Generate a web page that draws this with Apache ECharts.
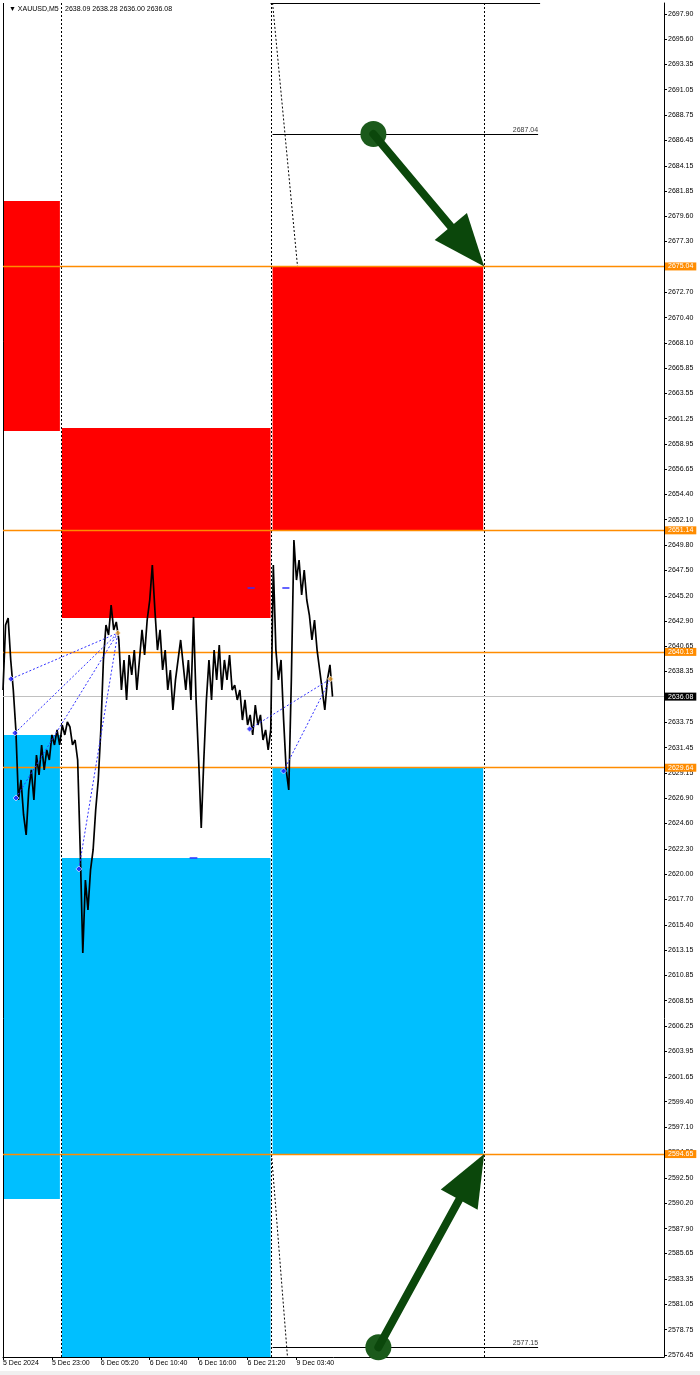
<!DOCTYPE html>
<html>
<head>
<meta charset="utf-8">
<title>XAUUSD,M5</title>
<script src="https://cdn.jsdelivr.net/npm/echarts@6/dist/echarts.min.js"></script>
<style>
    html, body { margin: 0; padding: 0; background: #fff; }
    #main { width: 700px; height: 1375px; }
</style>
</head>
<body>
<div id="main"></div>
<script>
// symbol / last bar
var symbolName = 'XAUUSD,M5';
var lastBar = ['2638.09', '2638.28', '2636.00', '2636.08'];

// M5 bars, bar 0 = 5 Dec 16:40, one close read every 4 bars
var closeStep = 4;
var closes = [
    2636.68, 2642.57, 2643.20, 2639.40, 2636.68, 2633.06, 2626.72, 2628.53, 2625.36, 2623.55,
    2627.63, 2629.44, 2626.72, 2630.79, 2628.98, 2631.70, 2629.44, 2631.25, 2630.34, 2632.61,
    2631.70, 2633.06, 2631.70, 2633.51, 2632.61, 2633.78, 2633.33, 2631.70, 2632.15, 2630.34,
    2622.19, 2612.86, 2619.47, 2616.76, 2620.38, 2622.19, 2625.81, 2628.53, 2633.06, 2639.40,
    2642.57, 2641.66, 2644.38, 2642.12, 2642.84, 2641.21, 2636.68, 2639.40, 2635.78, 2639.85,
    2638.04, 2640.30, 2636.68, 2639.40, 2642.12, 2639.85, 2643.02, 2644.83, 2648.00, 2643.93,
    2640.30, 2642.12, 2638.49, 2640.30, 2636.68, 2638.49, 2634.87, 2637.59, 2639.40, 2641.21,
    2638.95, 2636.68, 2639.40, 2635.78, 2643.29, 2635.78, 2630.34, 2624.18, 2630.34, 2635.78,
    2639.40, 2635.78, 2640.30, 2637.59, 2640.76, 2636.68, 2639.40, 2637.59, 2639.85, 2636.68,
    2637.13, 2635.78, 2636.68, 2633.96, 2635.78, 2633.51, 2634.42, 2632.61, 2635.32, 2633.51,
    2634.42, 2632.15, 2633.06, 2631.25, 2633.06, 2648.00, 2640.30, 2637.59, 2639.40, 2633.96,
    2629.44, 2627.63, 2637.59, 2650.27, 2646.64, 2648.45, 2645.28, 2647.55, 2644.83, 2643.47,
    2641.21, 2643.02, 2640.30, 2638.49, 2636.68, 2634.87, 2637.59, 2638.95, 2636.08
];

// time axis (bar index -> label)
var timeTicks = [0, 76, 152, 228, 304, 380, 456];
var timeLabels = ['5 Dec 2024', '5 Dec 23:00', '6 Dec 05:20', '6 Dec 10:40', '6 Dec 16:00', '6 Dec 21:20', '9 Dec 03:40'];

// price scale labels
var priceTicks = [
    2697.90, 2695.60, 2693.35, 2691.05, 2688.75, 2686.45, 2684.15, 2681.85, 2679.60, 2677.30,
    2675.00, 2672.70, 2670.40, 2668.10, 2665.85, 2663.55, 2661.25, 2658.95, 2656.65, 2654.40,
    2652.10, 2649.80, 2647.50, 2645.20, 2642.90, 2640.65, 2638.35, 2636.05, 2633.75, 2631.45,
    2629.15, 2626.90, 2624.60, 2622.30, 2620.00, 2617.70, 2615.40, 2613.15, 2610.85, 2608.55,
    2606.25, 2603.95, 2601.65, 2599.40, 2597.10, 2594.80, 2592.50, 2590.20, 2587.90, 2585.65,
    2583.35, 2581.05, 2578.75, 2576.45
];

// horizontal levels
var levels = [2675.04, 2651.14, 2640.13, 2629.64, 2594.65];
var bidPrice = 2636.08;

// zones: [bar from, bar to, price top, price bottom]
var supplyZones = [
    [0, 88.4, 2680.96, 2660.13],
    [91.5, 415.7, 2660.41, 2643.20],
    [418.8, 746.1, 2675.04, 2651.14]
];
var demandZones = [
    [0, 88.4, 2632.60, 2590.58],
    [91.5, 415.7, 2621.46, 2570.00],
    [418.8, 746.1, 2629.64, 2594.65]
];

// day separators (bar index)
var separators = [90, 417.2, 747.6];

// target lines: [bar from, bar to, price]
var targetLines = [
    [418.8, 831.4, 2687.04],
    [418.8, 831.4, 2577.15]
];
var topLine = [415.7, 834.5, 2698.85];

// dotted diagonals: [bar, price, bar, price]
var diagonals = [
    [418.8, 2698.90, 457.6, 2675.04],
    [417.2, 2594.65, 442.0, 2576.27]
];

// zigzag swing points [bar, price]
var swingLows = [[12.4, 2637.68], [18.6, 2632.79], [20.2, 2626.90], [117.9, 2620.47], [383.1, 2633.15], [435.9, 2629.34]];
var swingHighs = [[178.4, 2641.84], [508.8, 2637.68]];
// index of swingHighs each swingLow connects to
var swingLinks = [0, 0, 0, 0, 1, 1];

// small blue marks [bar from, bar to, price]
var blueMarks = [[380, 391, 2645.92], [434, 445, 2645.92], [290, 302, 2621.46]];

// arrows: [bar, price] start circle -> [bar, price] tip
var arrows = [
    [575.5, 2687.04, 747.6, 2675.04],
    [583.2, 2577.15, 747.6, 2594.65]
];

var font = 'Liberation Sans, DejaVu Sans, sans-serif';
var yMin = 2576.27, yMax = 2698.90;
var xMin = 0, xMax = 1027;

drawChart();

function drawChart() {
    var myChart = echarts.init(document.getElementById('main'));

    var priceData = closes.map(function (v, i) { return [i * closeStep, v]; });

    var segs = [];
    separators.forEach(function (b) {
        segs.push({ coords: [[b, yMax], [b, yMin]] });
    });
    diagonals.forEach(function (d) {
        segs.push({ coords: [[d[0], d[1]], [d[2], d[3]]] });
    });

    var zig = swingLows.map(function (p, i) {
        return { coords: [p, swingHighs[swingLinks[i]]] };
    });

    var solid = targetLines.map(function (t) {
        return { coords: [[t[0], t[2]], [t[1], t[2]]] };
    });
    solid.push({ coords: [[topLine[0], topLine[2]], [topLine[1], topLine[2]]] });
    // left frame
    solid.push({ coords: [[xMin, yMax], [xMin, yMin]] });

    var marks = blueMarks.map(function (m) {
        return { coords: [[m[0], m[2]], [m[1], m[2]]] };
    });

    var levelLines = levels.map(function (v) {
        return {
            yAxis: v,
            lineStyle: { color: '#FF8C00', width: 1.4, type: 'solid' },
            label: {
                show: true, position: 'end', distance: 1, formatter: v.toFixed(2),
                color: '#fff', backgroundColor: '#FF8C00', padding: [1, 3, 0, 3],
                fontSize: 7, fontFamily: font
            }
        };
    });
    levelLines.push({
        yAxis: bidPrice,
        lineStyle: { color: '#C0C0C0', width: 1, type: 'solid' },
        label: {
            show: true, position: 'end', distance: 1, formatter: bidPrice.toFixed(2),
            color: '#fff', backgroundColor: '#000', padding: [1, 3, 0, 3],
            fontSize: 7, fontFamily: font
        }
    });

    function zoneRender(color) {
        return function (params, api) {
            var p0 = api.coord([api.value(0), api.value(2)]);
            var p1 = api.coord([api.value(1), api.value(3)]);
            var rect = echarts.graphic.clipRectByRect({
                x: p0[0], y: p0[1], width: p1[0] - p0[0], height: p1[1] - p0[1]
            }, {
                x: params.coordSys.x, y: params.coordSys.y,
                width: params.coordSys.width, height: params.coordSys.height
            });
            return rect && { type: 'rect', shape: rect, style: { fill: color } };
        };
    }

    function arrowRender(params, api) {
        var a = api.coord([api.value(0), api.value(1)]);
        var b = api.coord([api.value(2), api.value(3)]);
        var dx = b[0] - a[0], dy = b[1] - a[1];
        var len = Math.sqrt(dx * dx + dy * dy);
        var ux = dx / len, uy = dy / len;
        var headLen = 52, half = 21;
        var bx = b[0] - ux * headLen, by = b[1] - uy * headLen;
        return {
            type: 'group',
            children: [
                { type: 'circle', shape: { cx: a[0], cy: a[1], r: 13 }, style: { fill: '#1B5A1B' } },
                {
                    type: 'line', shape: { x1: a[0], y1: a[1], x2: bx + ux * 4, y2: by + uy * 4 },
                    style: { stroke: '#0B470B', lineWidth: 8, lineCap: 'round' }
                },
                {
                    type: 'polygon',
                    shape: { points: [[b[0], b[1]], [bx - uy * half, by + ux * half], [bx + uy * half, by - ux * half]] },
                    style: { fill: '#0B470B' }
                }
            ]
        };
    }

    var option = {
        backgroundColor: '#fff',
        animation: false,
        title: [{
            left: 4, top: 1,
            text: '\u25BC ' + symbolName,
            textStyle: { fontSize: 7, fontWeight: 'normal', color: '#000', fontFamily: font }
        }, {
            left: 60, top: 1,
            text: lastBar.join(' '),
            textStyle: { fontSize: 7, fontWeight: 'normal', color: '#000', fontFamily: font }
        }],
        grid: { left: 2, right: 36, top: 3, bottom: 18 },
        xAxis: {
            type: 'value', min: xMin, max: xMax,
            splitLine: { show: false },
            axisLine: { lineStyle: { color: '#000', width: 1 } },
            axisTick: { customValues: timeTicks, length: 3, lineStyle: { color: '#000' } },
            axisLabel: {
                customValues: timeTicks,
                align: 'left', margin: 3,
                fontSize: 7, color: '#000', fontFamily: font,
                formatter: function (v) { return timeLabels[timeTicks.indexOf(v)] || ''; }
            }
        },
        yAxis: {
            type: 'value', position: 'right', min: yMin, max: yMax,
            splitLine: { show: false },
            minorTick: { show: false },
            axisLine: { show: true, onZero: false, lineStyle: { color: '#000', width: 1 } },
            axisTick: { show: true, inside: false, customValues: priceTicks, length: 3, lineStyle: { color: '#000' } },
            axisLabel: {
                customValues: priceTicks, margin: 4,
                fontSize: 7, color: '#000', fontFamily: font,
                formatter: function (v) { return v.toFixed(2); }
            }
        },
        graphic: [{
            type: 'rect', left: 0, top: 1371, shape: { width: 700, height: 4 },
            style: { fill: '#f0f0f0' }, silent: true
        }],
        series: [
            {
                type: 'custom', name: 'supply', renderItem: zoneRender('#FF0000'),
                data: supplyZones, encode: { x: [0, 1], y: [2, 3] }, z: 1, silent: true
            },
            {
                type: 'custom', name: 'demand', renderItem: zoneRender('#00BFFF'),
                data: demandZones, encode: { x: [0, 1], y: [2, 3] }, z: 1, silent: true
            },
            {
                type: 'lines', coordinateSystem: 'cartesian2d', z: 2, silent: true,
                lineStyle: { color: '#000', width: 1, type: [2, 2], opacity: 1 },
                data: segs
            },
            {
                type: 'lines', coordinateSystem: 'cartesian2d', z: 2, silent: true,
                lineStyle: { color: '#000', width: 1, type: 'solid', opacity: 1 },
                data: solid
            },
            {
                type: 'line', name: 'levels', data: [], z: 3, silent: true,
                markLine: { symbol: ['none', 'none'], silent: true, animation: false, data: levelLines }
            },
            {
                type: 'scatter', symbolSize: 0, z: 3, silent: true,
                data: targetLines.map(function (t) { return [t[1], t[2]]; }),
                label: {
                    show: true, position: 'left', distance: 0, offset: [0, -4],
                    fontSize: 7, color: '#000', fontFamily: font,
                    formatter: function (p) { return p.value[1].toFixed(2); }
                }
            },
            {
                type: 'line', name: 'XAUUSD', data: priceData, z: 5,
                showSymbol: false, silent: true, clip: true,
                lineStyle: { color: '#000', width: 1.7 }
            },
            {
                type: 'lines', coordinateSystem: 'cartesian2d', z: 6, silent: true,
                lineStyle: { color: '#3030FF', width: 1, type: [2, 2], opacity: 1 },
                data: zig
            },
            {
                type: 'lines', coordinateSystem: 'cartesian2d', z: 6, silent: true,
                lineStyle: { color: '#3030FF', width: 1.5, type: 'solid', opacity: 1 },
                data: marks
            },
            {
                type: 'scatter', z: 7, silent: true, symbol: 'diamond', symbolSize: 6,
                itemStyle: { color: '#2020FF', borderColor: '#fff', borderWidth: 0.8 },
                data: swingLows
            },
            {
                type: 'scatter', z: 7, silent: true, symbol: 'diamond', symbolSize: 6,
                itemStyle: { color: '#E8A030', borderColor: '#fff', borderWidth: 0.8 },
                data: swingHighs
            },
            {
                type: 'custom', name: 'arrows', renderItem: arrowRender, z: 8, silent: true,
                data: arrows, encode: { x: [0, 2], y: [1, 3] }
            }
        ]
    };

    myChart.setOption(option);
}
</script>
</body>
</html>
